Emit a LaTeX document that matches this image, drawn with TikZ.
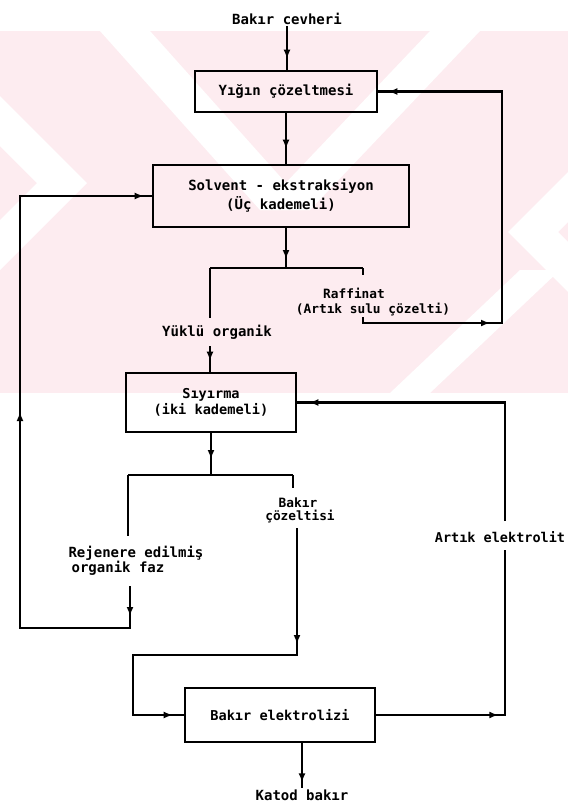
\documentclass[tikz,border=0pt]{standalone}
\usepackage{fontspec}
\newfontfamily\lab{DejaVu Sans Mono Bold}
\usetikzlibrary{arrows.meta,decorations.markings,calc}
\definecolor{wmpink}{RGB}{253,236,240}
\begin{document}
\begin{tikzpicture}[x=1pt,y=-1pt,
  ln/.style={line width=2.2pt},
  lbl/.style={font=\lab\fontsize{14}{16}\selectfont, inner sep=1pt},
  small/.style={font=\lab\fontsize{12.8}{15}\selectfont},
  box/.style={draw, line width=2.6pt, inner sep=0pt, align=center,
    font=\lab\fontsize{14}{19}\selectfont},
  tipat/.style={postaction={decorate,decoration={markings,
    mark=at position #1 with {\arrow{Latex[length=9pt,width=7pt]}}}}}]
\useasboundingbox (0,0) rectangle (568,809);
\fill[white] (0,0) rectangle (568,809);
% watermark
\begin{scope}
\clip (0,31) rectangle (568,393);
\fill[wmpink] (0,31) rectangle (568,393);
\fill[white] (87,183) -- ++(-200,-200) -- ++(-50,0) -- (37,183) -- ++(-200,200) -- ++(50,0) -- cycle;
\fill[white] (508,232) -- ++(200,-200) -- ++(50,0) -- (558,232) -- ++(200,200) -- ++(-50,0) -- cycle;
\fill[white] (100,31) -- (150,31) -- (310,210) -- (260,210) -- cycle;
\fill[white] (430,31) -- (480,31) -- (310,210) -- (260,210) -- cycle;
\fill[white] (520,270) -- (560,270) -- (430,393) -- (390,393) -- cycle;
\end{scope}
% nodes
\node[lbl] (t0) at (287,19) {Bakır cevheri};
\node[box, minimum width=182pt, minimum height=41pt] (b1) at (286,91.5) {Yığın çözeltmesi};
\node[box, minimum width=256pt, minimum height=62pt] (b2) at (281,196) {Solvent - ekstraksiyon\\(Üç kademeli)};
\node[box, minimum width=170pt, minimum height=59pt, font=\lab\fontsize{13.6}{16}\selectfont] (b3) at (211,402.5) {Sıyırma\\(iki kademeli)};
\node[box, minimum width=190pt, minimum height=54pt, font=\lab\fontsize{13.6}{16}\selectfont] (b4) at (280,715) {Bakır elektrolizi};
\node[lbl] (yuk) at (217,332) {Yüklü organik};
\node[lbl, small] (raf1) at (354,293) {Raffinat};
\node[lbl, small] (raf2) at (373,310) {(Artık sulu çözelti)};
\node[lbl, small] (bc1) at (298,503) {Bakır};
\node[lbl, small] (bc2) at (300,517) {çözeltisi};
\node[lbl] (rj1) at (136,553) {Rejenere edilmiş};
\node[lbl] (rj2) at (118,568) {organik faz};
\node[lbl, font=\lab\fontsize{13.5}{15}\selectfont] (ae) at (500,537) {Artık elektrolit};
\node[lbl] (kt) at (302,795) {Katod bakır};
% coordinates
\coordinate (s1) at (286,268);
\coordinate (s1L) at (210,268);
\coordinate (s1R) at (363,268);
\coordinate (s1Rb) at (363,275);
\coordinate (yk0) at (210,318);
\coordinate (yka) at (210,346);
\coordinate (rfa) at (363,317);
\coordinate (rfc) at (502,323);
\coordinate (s2) at (211,475);
\coordinate (s2L) at (128,475);
\coordinate (s2R) at (293,475);
\coordinate (s2Rb) at (293,488);
\coordinate (s2Lb) at (128,536);
\coordinate (bca) at (297,528);
\coordinate (bcb) at (133,655);
\coordinate (rja) at (130,586);
\coordinate (rjb) at (20,628);
\coordinate (aeu) at (505,521);
\coordinate (ael) at (505,550);
% connectors
\draw[ln, tipat=-11pt] (t0.south) -- (t0.south |- b1.north);
\draw[ln, tipat=-15pt] (b1.south) -- (b1.south |- b2.north);
\draw[ln, tipat=-9pt] (b2.south -| s1) -- (s1);
\draw[ln] (s1L) -- (s1R);
\draw[ln] (s1L) -- (yk0);
\draw[ln, tipat=-11pt] (yka) -- (yka |- b3.north);
\draw[ln] (s1R) -- (s1Rb);
\draw[ln, tipat=133pt, tipat=-10pt] (rfa) |- (rfc) |- (b1.east);
\draw[ln, tipat=-12pt] (aeu) |- (b3.east);
\draw[ln, tipat=122pt] (b4.east) -| (ael);
\draw[ln, tipat=-16pt] (b3.south) -- (s2);
\draw[ln] (s2L) -- (s2R);
\draw[ln] (s2R) -- (s2Rb);
\draw[ln] (s2L) -- (s2Lb);
\draw[ln, tipat=116pt, tipat=-11pt] (bca) |- (bcb) |- (b4.west);
\draw[ln, tipat=30pt, tipat=368pt, tipat=-8pt] (rja) |- (rjb) |- (b2.west);
\draw[ln, tipat=-6pt] (kt.north |- b4.south) -- (kt.north);
\end{tikzpicture}
\end{document}
